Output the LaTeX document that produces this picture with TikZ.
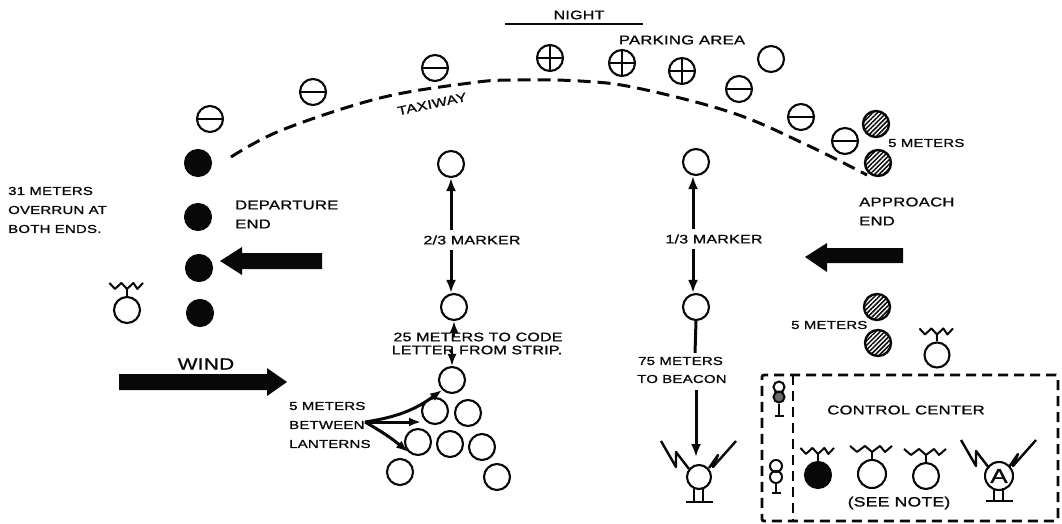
\documentclass[tikz,border=0pt]{standalone}
\usepackage{fontspec}
\setmainfont[FakeStretch=1.3,FakeBold=1.2,LetterSpace=2]{Liberation Sans}
\usetikzlibrary{arrows.meta,patterns.meta,calc}
\definecolor{ink}{gray}{0.03}
\tikzset{
  lantern/.style={circle,draw=ink,line width=2.1pt,minimum size=26pt,inner sep=0pt},
  minuslamp/.style={lantern,path picture={\draw[ink,line width=2pt] (path picture bounding box.west) -- (path picture bounding box.east);}},
  pluslamp/.style={lantern,path picture={\draw[ink,line width=2pt] (path picture bounding box.west) -- (path picture bounding box.east) (path picture bounding box.north) -- (path picture bounding box.south);}},
  blacklamp/.style={lantern,fill=ink},
  hatchlamp/.style={lantern,line width=2.4pt,pattern={Lines[angle=45,distance=3.2pt,line width=1.5pt]},pattern color=ink},
  smalllamp/.style={circle,draw=ink,line width=2pt,inner sep=0pt,minimum size=#1},
  lab/.style={inner sep=0pt,text=ink,font=\fontsize{11.5}{13}\selectfont},
  wlab/.style={inner sep=0pt,text=ink,font=\fontsize{12.3}{14}\selectfont},
  midlab/.style={inner sep=0pt,text=ink,font=\fontsize{12.8}{15}\selectfont},
  windlab/.style={inner sep=0pt,text=ink,font=\fontsize{16}{18}\selectfont},
  gapped/.style={wlab,inner sep=5pt},
  link/.style={ink,line width=3pt,-{Latex[length=13pt,width=10pt]}},
  plainlink/.style={ink,line width=3pt},
  hublink/.style={ink,line width=3pt,-{Latex[length=12pt,width=9pt]}},
  symbol/.style={ink,line width=2pt,line join=round},
  taxi/.style={ink,line width=3pt,dash pattern=on 13pt off 7pt},
  boxdash/.style={draw=ink,line width=2.8pt,dash pattern=on 10pt off 6pt},
  bigarrow/.style={fill=ink,draw=none}
}
\newcommand{\antennaon}[2]{%
  \begin{scope}[shift={(#1.north)},xscale=#2]
    \draw[symbol] (-22,-13) -- (-15,-7) -- (-7,-13) -- (0,-7) -- (8,-13) -- (13,-7) -- (20,-13);
  \end{scope}
  \draw[symbol] (#1.north) -- ++(0,-7);
}
\newcommand{\beaconon}[1]{%
  \begin{scope}[shift={(#1.center)}]
    \draw[symbol,line width=2.4pt] (-38,-36) -- (-23,-10) -- (-23,-25) -- (-10,-8);
    \draw[symbol,line width=2.4pt] (37,-36) -- (14,-10) -- (19,-22) -- (10,-9);
    \draw[symbol] (-5,12) -- (-5,25) (4,12) -- (4,25);
    \draw[symbol,line width=2.4pt] (-13,25) -- (14,25);
  \end{scope}
}
\begin{document}
\begin{tikzpicture}[x=1pt,y=-1pt]
\useasboundingbox (0,0) rectangle (1062,524);
% heading
\node[wlab] (night) at (579,15) {NIGHT};
\coordinate (nightL) at (505,24);
\coordinate (nightR) at (643,24);
\draw[ink,line width=2.4pt] (nightL) -- (nightR);
\node[midlab] (park) at (682,40) {PARKING AREA};
% parking / taxiway lanterns
\node[minuslamp] (t1) at (210,119) {};
\node[minuslamp] (t2) at (313,92) {};
\node[minuslamp] (t3) at (435,68) {};
\node[pluslamp] (p1) at (550,58) {};
\node[pluslamp] (p2) at (622,63) {};
\node[pluslamp] (p3) at (682,71) {};
\node[lantern] (t4) at (771,59) {};
\node[minuslamp] (t5) at (739,89) {};
\node[minuslamp] (t6) at (801,117) {};
\node[minuslamp] (t7) at (845,141) {};
\draw[taxi] plot[smooth,tension=0.6] coordinates {(231,157) (282,130) (380,98) (470,83) (513,80) (580,81) (637,88) (733,113) (807,145) (867,175)};
\node[wlab,rotate=12] (taxiway) at (432,104) {TAXIWAY};
% approach end
\node[hatchlamp] (h1) at (876,124) {};
\node[hatchlamp] (h2) at (878,163) {};
\node[lab,anchor=west] (fm1) at (888,143) {5 METERS};
\node[midlab,anchor=west] (appr) at (859,202) {APPROACH};
\node[midlab,anchor=west] (apend) at (859,221) {END};
\fill[bigarrow] (903,248) -- (827,248) -- (827,243) -- (805,257) -- (827,272) -- (827,263) -- (903,263) -- cycle;
\node[hatchlamp] (h3) at (877,307) {};
\node[hatchlamp] (h4) at (878,343) {};
\node[lab,anchor=west] (fm2) at (791,325) {5 METERS};
\node[lantern,minimum size=25pt] (ra) at (937,355) {};
\antennaon{ra}{0.8}
% departure end
\node[blacklamp] (b1) at (198,163) {};
\node[blacklamp] (b2) at (198,217) {};
\node[blacklamp] (b3) at (199,268) {};
\node[blacklamp] (b4) at (200,313) {};
\node[lab,anchor=west] (ov1) at (8,191) {31 METERS};
\node[lab,anchor=west] (ov2) at (8,210) {OVERRUN AT};
\node[lab,anchor=west] (ov3) at (8,229) {BOTH ENDS.};
\node[midlab,anchor=west] (dep) at (235,205) {DEPARTURE};
\node[midlab,anchor=west] (dpend) at (235,224) {END};
\fill[bigarrow] (322,253) -- (242,253) -- (242,247) -- (220,261) -- (242,275) -- (242,269) -- (322,269) -- cycle;
\node[lantern] (la) at (127,310) {};
\antennaon{la}{0.8}
\node[windlab] (wind) at (206,364) {WIND};
\fill[bigarrow] (119,374) -- (267,374) -- (267,368) -- (287,382) -- (267,396) -- (267,390) -- (119,390) -- cycle;
% centre column
\node[lantern] (m1) at (451,164) {};
\node[lantern] (m2) at (454,307) {};
\node[lantern] (L1) at (452,380) {};
\node[gapped] (l23) at (472,240) {2/3 MARKER};
\draw[link] (m1 |- l23.north) -- (m1.south);
\draw[link] (m1 |- l23.south) -- (m1 |- m2.north);
\node[wlab] (c1) at (478,337) {25 METERS TO CODE};
\node[wlab] (c2) at (477,350) {LETTER FROM STRIP.};
\draw[ink,line width=2pt,-{Latex[length=12pt,width=9pt]}] (c1.center -| m2) -- (m2.south);
\draw[ink,line width=2pt,-{Latex[length=12pt,width=9pt]}] (c2.center -| L1) -- (L1.north);
% lantern triangle
\node[lantern] (L2) at (435,411) {};
\node[lantern] (L3) at (468,413) {};
\node[lantern] (L4) at (418,442) {};
\node[lantern] (L5) at (450,444) {};
\node[lantern] (L6) at (482,447) {};
\node[lantern] (L7) at (400,472) {};
\node[lantern] (L8) at (497,477) {};
\node[lab,anchor=west] (b5) at (289,406) {5 METERS};
\node[lab,anchor=west] (b6) at (289,425) {BETWEEN};
\node[lab,anchor=west] (b7) at (289,444) {LANTERNS};
\coordinate (hub) at (365,422);
\coordinate (hubm) at (421,422);
\draw[hublink] (hub) to[bend right=14] (L1.south west);
\draw[hublink] (hub) -- (hubm);
\draw[hublink] (hub) to[bend left=5] (L4.south west);
% right column
\node[lantern] (r1) at (696,162) {};
\node[lantern] (r2) at (696,307) {};
\node[gapped] (l13) at (714,239) {1/3 MARKER};
\draw[link] ([xshift=-3pt]r1 |- l13.north) -- ([xshift=-3pt]r1.south);
\draw[link] ([xshift=-3pt]r1 |- l13.south) -- ([xshift=-3pt]r2.north);
\node[lab,anchor=west] (s1) at (638,361) {75 METERS};
\node[lab,anchor=west] (s2) at (637,379) {TO BEACON};
\node[lantern,minimum size=24pt] (bc) at (699,477) {};
\coordinate (s1top) at (695,353);
\coordinate (s2bot) at (696,390);
\coordinate (bcin) at (696,457);
\draw[plainlink] (r2.south) -- (s1top);
\draw[link] (s2bot) -- (bcin);
\beaconon{bc}
% control centre
\node[boxdash,rounded corners=2pt,minimum width=296pt,minimum height=146pt,inner sep=0pt] (cc) at (910,448) {};
\coordinate (divT) at (793,375);
\coordinate (divB) at (793,521);
\draw[ink,line width=2.8pt,dash pattern=on 10pt off 6pt] (divT) -- (divB);
\node[smalllamp=11pt] (f1) at (779,387) {};
\node[smalllamp=11pt,fill=ink!60] (f2) at (779,397) {};
\coordinate (f2b) at (779,416);
\draw[symbol] (f2) -- (f2b);
\coordinate (f2l) at (775,416);
\coordinate (f2r) at (784,416);
\draw[symbol] (f2l) -- (f2r);
\node[smalllamp=12pt] (f3) at (776,466) {};
\node[smalllamp=12pt] (f4) at (776,477) {};
\coordinate (f4b) at (776,493);
\draw[symbol] (f4) -- (f4b);
\coordinate (f4l) at (772,493);
\coordinate (f4r) at (781,493);
\draw[symbol] (f4l) -- (f4r);
\node[midlab] (cct) at (906,410) {CONTROL CENTER};
\node[midlab,font=\fontsize{13.5}{15}\selectfont] (see) at (899,503) {(SEE NOTE)};
\node[blacklamp] (c1l) at (818,475) {};
\antennaon{c1l}{0.8}
\node[lantern,minimum size=28pt] (c2l) at (872,474) {};
\antennaon{c2l}{1}
\node[lantern,minimum size=26pt] (c3l) at (926,476) {};
\antennaon{c3l}{1}
\node[lantern,minimum size=28pt,text=ink,font=\fontsize{20}{20}\selectfont] (c4l) at (999,476) {A};
\beaconon{c4l}
\end{tikzpicture}
\end{document}
